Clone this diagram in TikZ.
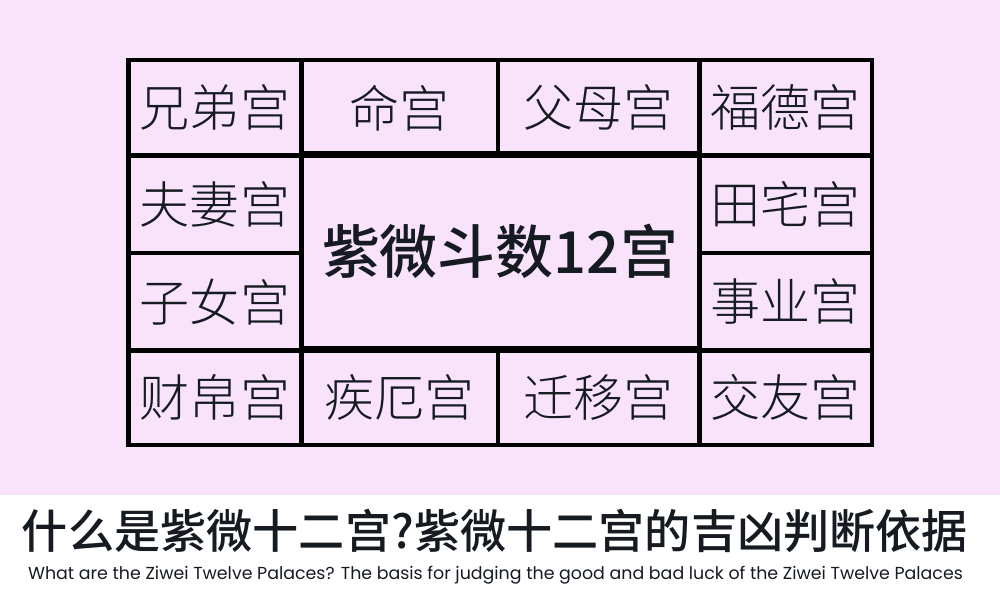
\documentclass[tikz,border=0pt]{standalone}
\usepackage{fontspec}
\setmainfont{Poppins}
\newfontfamily\cjk{Noto Sans CJK SC}
\IfFontExistsTF{Noto Sans CJK SC Light}
  {\newfontfamily\cjkthin{Noto Sans CJK SC Light}}
  {\newfontfamily\cjkthin{Noto Sans CJK SC}}
\IfFontExistsTF{Noto Sans CJK SC Medium}
  {\newfontfamily\cjkmid{Noto Sans CJK SC Medium}}
  {\newfontfamily\cjkmid{Noto Sans CJK SC Bold}}
\definecolor{bgpink}{HTML}{F9E3FB}
\definecolor{ink}{HTML}{161B22}
\tikzset{
  cell/.style={draw=black, line width=2.3pt, inner sep=0pt, text=ink,
    font=\cjkthin\fontsize{28.5}{31}\selectfont},
  cellsize/.style 2 args={minimum width=#1*0.02cm, minimum height=#2*0.02cm},
}

\begin{document}
\begin{tikzpicture}[x=0.02cm, y=-0.02cm]
    \useasboundingbox (0,0) rectangle (1000,606);
    \fill[bgpink] (0,0) rectangle (1000,495);
    \fill[white] (0,495) rectangle (1000,606);

    % top row
    \node[cell, cellsize={173}{95.5}] (xiongdi) at (215,107.75) {兄弟宫};
    \node[cell, cellsize={196.5}{95.5}] (ming) at (399.75,107.75) {命宫};
    \node[cell, cellsize={201.5}{95.5}] (fumu) at (598.75,107.75) {父母宫};
    \node[cell, cellsize={172.5}{95.5}] (fude) at (785.75,107.75) {福德宫};

    % side columns
    \node[cell, cellsize={173}{97.5}] (fuqi) at (215,204.25) {夫妻宫};
    \node[cell, cellsize={173}{97.5}] (zinv) at (215,301.75) {子女宫};
    \node[cell, cellsize={172.5}{97.5}] (tianzhai) at (785.75,204.25) {田宅宫};
    \node[cell, cellsize={172.5}{97.5}] (shiye) at (785.75,301.75) {事业宫};

    % bottom row
    \node[cell, cellsize={173}{94.5}] (caibo) at (215,397.75) {财帛宫};
    \node[cell, cellsize={196.5}{94.5}] (jie) at (399.75,397.75) {疾厄宫};
    \node[cell, cellsize={201.5}{94.5}] (qianyi) at (598.75,397.75) {迁移宫};
    \node[cell, cellsize={172.5}{94.5}] (jiaoyou) at (785.75,397.75) {交友宫};

    % centre
    \node[cell, cellsize={398}{195}, font=\cjkmid\fontsize{33}{36}\selectfont]
      (ziwei) at (500,251) {紫微斗数12宫};

    % captions
    \node[text=ink, inner sep=0pt] (title) at (495,531)
      {\resizebox{18.92cm}{!}{\cjkmid 什么是紫微十二宫?紫微十二宫的吉凶判断依据}};
    \node[text=ink, inner sep=0pt] (subtitle) at (495.5,575)
      {\resizebox{18.7cm}{!}{What are the Ziwei Twelve Palaces? The basis for judging the good and bad luck of the Ziwei Twelve Palaces}};
\end{tikzpicture}
\end{document}
